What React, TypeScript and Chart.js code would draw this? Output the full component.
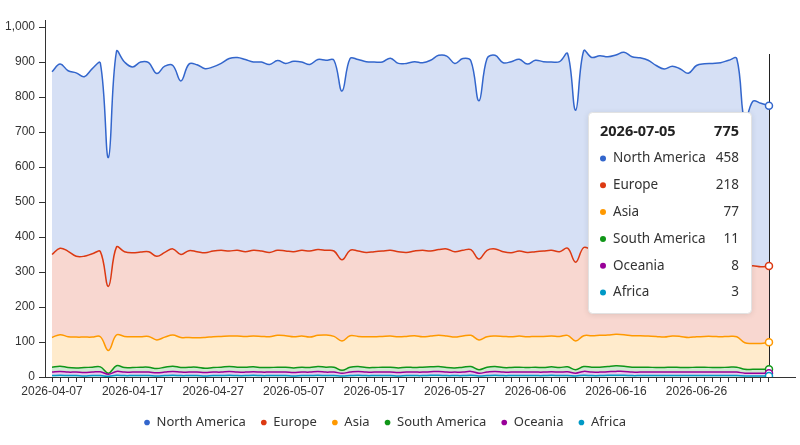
import React, { useEffect, useRef } from 'react';
import { Chart, registerables } from 'chart.js';

Chart.register(...registerables);

// ---- categories (daily, 2026-04-07 .. 2026-07-05) ----
const dates: string[] = [];
for (let i = 0; i < 90; i++) {
  dates.push(new Date(Date.UTC(2026, 3, 7 + i)).toISOString().slice(0, 10));
}

// ---- y tick values ----
const yTicks = [0, 100, 200, 300, 400, 500, 600, 700, 800, 900, 1000];

// ---- series values ----
const northAmerica = [522,526,516,524,513,529,539,368,559,542, 531,543,540,522,532,524,496,533,534,526, 526,534,550,551,549,538,540,537,542,536, 544,538,533,543,543,545,482,548,547,545, 542,540,549,538,540,541,536,545,555,551, 538,548,539,452,548,553,540,546,548,538, 547,541,538,543,556,434,562,549,552,551, 552,558,549,548,543,532,525,528,522,514, 530,533,534,538,543,546,414,470,467,458];
const europe = [237,247,244,231,231,238,243,183,251,242, 240,242,242,239,242,246,237,248,246,242, 245,246,243,245,242,245,244,241,243,242, 243,245,246,245,242,244,232,244,244,241, 243,244,245,243,240,242,247,243,245,249, 244,245,245,231,247,249,242,240,243,241, 242,244,245,242,249,225,252,246,247,244, 246,249,248,246,245,242,241,243,242,241, 245,246,246,245,246,249,218,222,219,218];
const asia = [85,90,88,88,87,86,86,65,88,89, 88,87,88,82,86,89,86,85,84,88, 88,88,87,89,88,88,89,88,91,90, 89,89,87,89,92,88,84,90,86,88, 88,88,89,89,88,91,87,88,89,90, 88,89,89,85,87,87,89,88,89,88, 88,89,88,89,90,82,88,90,91,90, 90,90,90,90,89,89,87,89,89,86, 87,88,89,88,88,87,76,74,74,77];
const southAmerica = [14,15,13,12,14,14,14,3,16,13, 13,14,14,12,14,15,13,14,14,12, 13,14,14,14,14,14,13,13,14,14, 13,14,13,14,14,14,8,14,14,13, 13,14,14,13,14,13,14,14,14,13, 12,14,14,10,14,14,13,13,14,13, 14,13,14,13,14,10,14,14,14,15, 16,15,14,14,14,13,13,14,13,13, 14,14,13,13,14,14,11,11,11,11];
const oceania = [10,11,10,10,10,10,11,6,11,10, 10,10,10,9,10,11,10,10,10,10, 10,10,11,10,10,10,10,10,10,10, 10,10,10,11,10,10,8,10,11,10, 10,10,10,10,10,10,10,10,11,10, 10,10,11,8,10,11,10,10,10,10, 10,10,10,10,11,8,11,10,10,10, 11,11,10,10,10,10,10,10,10,10, 10,10,10,10,10,10,8,8,8,8];
const africa = [4,5,4,4,3,4,4,2,5,4, 4,4,4,3,4,5,4,4,4,3, 4,4,5,4,4,5,4,4,4,4, 3,4,4,5,4,4,3,4,5,4, 4,4,4,3,4,4,4,5,5,4, 4,4,5,3,4,5,4,4,4,4, 4,4,5,4,4,3,5,4,4,5, 5,5,4,4,4,4,4,4,4,4, 4,4,4,4,4,4,3,3,3,3];

const seriesNames = ['North America', 'Europe', 'Asia', 'South America', 'Oceania', 'Africa'];
const seriesValues = [northAmerica, europe, asia, southAmerica, oceania, africa];
const seriesColors = ['#3366cc', '#dc3912', '#ff9900', '#109618', '#990099', '#0099c6'];

const yMax = 1020;

const UI_FONT = "'Noto Sans', sans-serif";
const AXIS_FONT = "'Liberation Sans', Arial, sans-serif";

function rgba(hex: string, a: number) {
  const n = parseInt(hex.slice(1), 16);
  return `rgba(${(n >> 16) & 255},${(n >> 8) & 255},${n & 255},${a})`;
}

const lastIdx = dates.length - 1;

const crosshairPlugin = {
  id: 'crosshair',
  beforeDatasetsDraw(chart: any) {
    const meta = chart.getDatasetMeta(chart.data.datasets.length - 1);
    const pt = meta.data[lastIdx];
    if (!pt) return;
    const { ctx, chartArea } = chart;
    ctx.save();
    ctx.strokeStyle = '#222';
    ctx.lineWidth = 1;
    ctx.beginPath();
    const x = Math.round(pt.x) + 0.5;
    ctx.moveTo(x, chartArea.top + 34);
    ctx.lineTo(x, chartArea.bottom);
    ctx.stroke();
    ctx.restore();
  },
};

const legendShiftPlugin = {
  id: 'legendShift',
  afterLayout(chart: any) {
    const lg = chart.legend;
    if (lg) {
      lg.left -= 15;
      lg.right -= 15;
    }
  },
};

const tooltipPlugin = {
  id: 'staticTooltip',
  afterDraw(chart: any) {
    const meta = chart.getDatasetMeta(chart.data.datasets.length - 1);
    const pt = meta.data[lastIdx];
    if (!pt) return;
    const { ctx, chartArea } = chart;
    const w = 163;
    const h = 201;
    const x0 = Math.round(pt.x) - 18 - w;
    const y0 = chartArea.top + 92;
    ctx.save();
    ctx.shadowColor = 'rgba(0,0,0,0.12)';
    ctx.shadowBlur = 6;
    ctx.shadowOffsetY = 1;
    ctx.fillStyle = '#ffffff';
    ctx.beginPath();
    (ctx as any).roundRect(x0 + 0.5, y0 + 0.5, w, h, 4);
    ctx.fill();
    ctx.shadowColor = 'transparent';
    ctx.strokeStyle = '#e2e2e2';
    ctx.lineWidth = 1;
    ctx.stroke();

    const total = seriesValues.reduce((s, arr) => s + arr[lastIdx], 0);
    ctx.textBaseline = 'middle';
    ctx.fillStyle = '#222';
    ctx.font = `bold 14.5px ${UI_FONT}`;
    ctx.textAlign = 'left';
    ctx.fillText(dates[lastIdx], x0 + 12, y0 + 20);
    ctx.textAlign = 'right';
    ctx.fillText(total.toLocaleString('en-US'), x0 + w - 12, y0 + 20);

    ctx.font = `13.5px ${UI_FONT}`;
    seriesNames.forEach((name, k) => {
      const y = y0 + 46.5 + k * 26.8;
      ctx.fillStyle = seriesColors[k];
      ctx.beginPath();
      ctx.arc(x0 + 15, y, 3, 0, Math.PI * 2);
      ctx.fill();
      ctx.fillStyle = '#333';
      ctx.textAlign = 'left';
      ctx.fillText(name, x0 + 25, y);
      ctx.textAlign = 'right';
      ctx.fillText(String(seriesValues[k][lastIdx]), x0 + w - 12, y);
    });
    ctx.restore();
  },
};

export default function App() {
  const canvasRef = useRef<HTMLCanvasElement | null>(null);

  useEffect(() => {
    document.body.style.margin = '0';
    const canvas = canvasRef.current;
    if (!canvas) return;

    // stack bottom-up: Africa first, North America on top
    const order = [5, 4, 3, 2, 1, 0];
    const datasets = order.map((k, j) => ({
      label: seriesNames[k],
      data: seriesValues[k].map((v, i) => ({ x: i, y: v })),
      borderColor: seriesColors[k],
      backgroundColor: rgba(seriesColors[k], 0.2),
      borderWidth: 1.5,
      fill: j === 0 ? 'origin' : '-1',
      tension: 0.4,
      pointRadius: (c: any) => (c.dataIndex === lastIdx ? 3.5 : 0),
      pointHoverRadius: 0,
      pointBackgroundColor: '#ffffff',
      pointBorderColor: seriesColors[k],
      pointBorderWidth: 1.5,
    }));

    const chart = new Chart(canvas, {
      type: 'line',
      data: { datasets },
      plugins: [legendShiftPlugin, crosshairPlugin, tooltipPlugin],
      options: {
        animation: false,
        responsive: false,
        events: [],
        layout: { padding: { top: 20, left: 0, right: 0, bottom: 6 } },
        scales: {
          x: {
            type: 'linear',
            min: -0.87,
            max: 92.23,
            afterBuildTicks: (scale: any) => {
              scale.ticks = dates.map((_, i) => ({ value: i }));
            },
            afterFit: (scale: any) => {
              scale.height = 24;
              scale.paddingLeft = 0;
              scale.paddingRight = 0;
            },
            ticks: {
              autoSkip: false,
              maxRotation: 0,
              minRotation: 0,
              padding: 2,
              color: '#333',
              font: { family: AXIS_FONT, size: 12 },
              callback: (v: any) => (Number(v) % 10 === 0 ? dates[Number(v)] : ''),
            },
            grid: { drawOnChartArea: false, drawTicks: true, tickLength: 5, color: '#333' },
            border: { color: '#333', width: 1 },
          },
          y: {
            stacked: true,
            min: 0,
            max: yMax,
            afterBuildTicks: (scale: any) => {
              scale.ticks = yTicks.map((v) => ({ value: v }));
            },
            afterFit: (scale: any) => {
              scale.width = 45;
            },
            ticks: {
              padding: 4,
              color: '#333',
              font: { family: AXIS_FONT, size: 12 },
              callback: (v: any) => Number(v).toLocaleString('en-US'),
            },
            grid: { drawOnChartArea: false, drawTicks: true, tickLength: 6, color: '#333' },
            border: { color: '#333', width: 1 },
          },
        },
        plugins: {
          tooltip: { enabled: false },
          legend: {
            position: 'bottom',
            labels: {
              usePointStyle: true,
              boxWidth: 6,
              boxHeight: 4,
              padding: 15,
              color: '#333',
              font: { family: UI_FONT, size: 13 },
              generateLabels: (ch: any) =>
                ch.data.datasets
                  .map((ds: any, i: number) => ({
                    text: ds.label,
                    fillStyle: ds.borderColor,
                    strokeStyle: ds.borderColor,
                    lineWidth: 0,
                    pointStyle: 'circle',
                    hidden: false,
                    fontColor: '#333',
                    datasetIndex: i,
                  }))
                  .reverse(),
            },
          },
        },
      } as any,
    });

    return () => chart.destroy();
  }, []);

  return (
    <div style={{ width: 800, height: 445 }}>
      <canvas ref={canvasRef} width={800} height={445} style={{ display: 'block' }} />
    </div>
  );
}
